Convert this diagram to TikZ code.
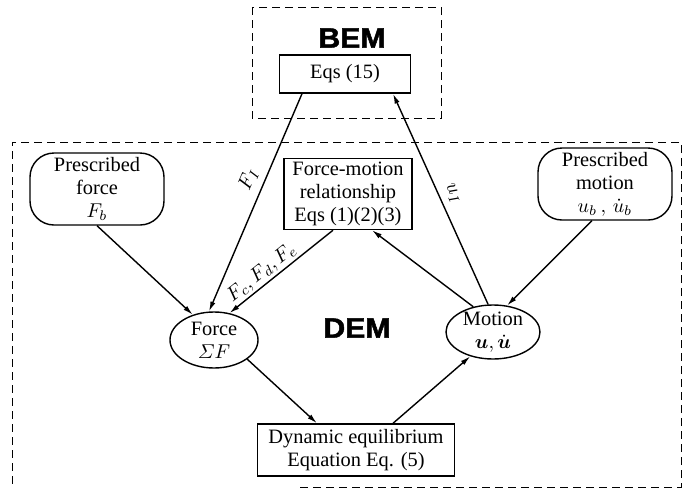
\documentclass[tikz,border=0pt]{standalone}
\usepackage{amsmath, amssymb}
\usepackage{fontspec}
\setmainfont{Liberation Serif}
\newfontfamily\labelfont[BoldFeatures={FakeBold=1.6}]{Liberation Sans}
\usetikzlibrary{arrows.meta, shapes.geometric}

\tikzset{
  eqbox/.style={draw, line width=0.7pt, align=center, inner sep=0pt},
  inputbox/.style={draw, line width=0.7pt, rounded corners=12pt, align=center,
    inner sep=0pt, minimum width=67pt, minimum height=36pt},
  statenode/.style={draw, ellipse, line width=0.7pt, align=center,
    inner xsep=0pt, inner ysep=-1.5pt},
  flow/.style={line width=0.7pt, -{Latex[length=5pt,width=2.6pt]}},
  region/.style={line width=0.5pt, dash pattern=on 4pt off 2.5pt},
  method/.style={font=\labelfont\bfseries\fontsize{14}{14}\selectfont, xscale=1.08}
}

\begin{document}
\begin{tikzpicture}[x=0.5pt, y=-0.5pt, font=\fontsize{10.2}{11.5}\selectfont]
    \useasboundingbox (0,0) rectangle (687,488);

    % the two solver regions
    \draw[region] (252,7) rectangle (441,118);
    \draw[region] (300,487) -- (681,487) -- (681,142) -- (12,142) -- (12,487);
    \node[method] (bem) at (352,38) {BEM};
    \node[method] (dem) at (357,328) {DEM};

    \node[eqbox, minimum width=65.5pt, minimum height=19pt] (eqs) at (345,74) {Eqs (15)};
    \node[eqbox, minimum width=64pt, minimum height=35.5pt] (fmr) at (348,194)
        {Force-motion\\relationship\\Eqs (1)(2)(3)};
    \node[eqbox, minimum width=98.5pt, minimum height=26pt] (dyn) at (356,450)
        {Dynamic equilibrium\\Equation Eq. (5)};

    \node[inputbox] (pforce) at (97,189) {Prescribed\\force\\$F_b$};
    \node[inputbox] (pmotion) at (605,184) {Prescribed\\motion\\$u_b\,,\,\dot{u}_b$};

    \node[statenode, minimum width=44pt, minimum height=28pt] (force) at (214,340)
        {Force\\$\varSigma F$};
    \node[statenode, minimum width=47pt, minimum height=27pt] (motion) at (493,332)
        {Motion\\$\boldsymbol{u},\dot{\boldsymbol{u}}$};

    % coupling with the boundary elements
    \draw[flow] ([xshift=-21.5pt]eqs.south) -- node[pos=0.42, sloped, above] {$F_I$} (force.100);
    \draw[flow] (motion.100) -- node[pos=0.5, sloped, above] {$u_I$} ([xshift=24pt]eqs.south);

    % loop inside the discrete elements
    \draw[flow] (pforce.south) -- (force.130);
    \draw[flow] ([xshift=-7.5pt]fmr.south) -- node[pos=0.62, sloped, above, inner sep=1pt] {$F_c, F_d, F_e$} (force.60);
    \draw[flow] (motion.128) -- ([xshift=12pt]fmr.south);
    \draw[flow] ([xshift=-6.5pt]pmotion.south) -- (motion.62);
    \draw[flow] (force.-30) -- ([xshift=-19.5pt]dyn.north);
    \draw[flow] ([xshift=18.5pt]dyn.north) -- (motion.227);
\end{tikzpicture}
\end{document}
